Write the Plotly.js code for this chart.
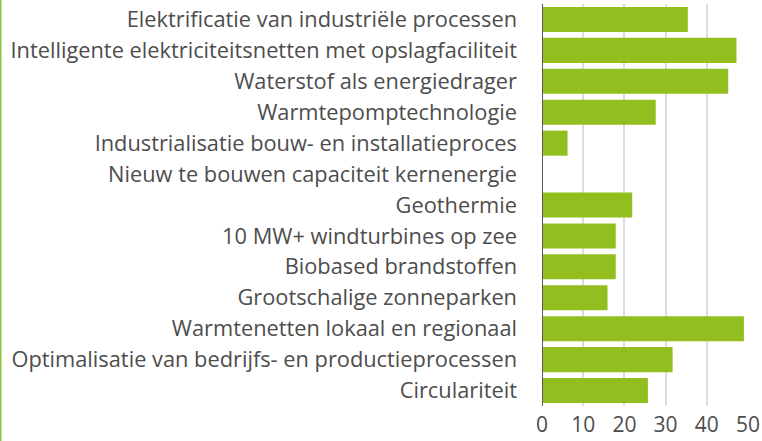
<!DOCTYPE html>
<html>
<head>
<meta charset="utf-8">
<script src="https://cdn.plot.ly/plotly-3.0.1.min.js"></script>
<style>
html,body{margin:0;padding:0;background:#fff;}
#chart{width:762px;height:441px;}
</style>
</head>
<body>
<div id="chart"></div>
<script>
const categories = [
  "Elektrificatie van industriële processen",
  "Intelligente elektriciteitsnetten met opslagfaciliteit",
  "Waterstof als energiedrager",
  "Warmtepomptechnologie",
  "Industrialisatie bouw- en installatieproces",
  "Nieuw te bouwen capaciteit kernenergie",
  "Geothermie",
  "10 MW+ windturbines op zee",
  "Biobased brandstoffen",
  "Grootschalige zonneparken",
  "Warmtenetten lokaal en regionaal",
  "Optimalisatie van bedrijfs- en productieprocessen",
  "Circulariteit"
];
const values = [35.4, 47.2, 45.2, 27.6, 6.2, 0, 21.9, 17.9, 17.9, 15.9, 49.0, 31.7, 25.7];
const xTicks = [0, 10, 20, 30, 40, 50];

const W = 762, L = 542, R = 14;
const plotW = W - L - R;

Plotly.newPlot('chart', [{
  type: 'bar',
  orientation: 'h',
  y: categories,
  x: values,
  marker: {color: '#92bf1f'},
  hoverinfo: 'none'
}], {
  width: 762,
  height: 441,
  margin: {l: L, r: R, t: 4, b: 35, pad: 0},
  paper_bgcolor: '#ffffff',
  plot_bgcolor: '#ffffff',
  bargap: 0.19,
  font: {family: '"Open Sans", sans-serif', size: 21.8, color: '#4d4d4d'},
  xaxis: {
    range: [0, 50],
    tickvals: xTicks,
    ticktext: xTicks.map(String),
    showgrid: true,
    gridcolor: '#dcdcdc',
    gridwidth: 2,
    zeroline: false,
    showline: false,
    ticks: '',
    ticklabelstandoff: 4,
    tickfont: {size: 21, color: '#4d4d4d'},
    fixedrange: true
  },
  yaxis: {
    categoryorder: 'array',
    categoryarray: categories,
    autorange: 'reversed',
    showgrid: false,
    zeroline: false,
    showline: false,
    ticks: '',
    ticklabelstandoff: 24,
    tickfont: {size: 21.8, color: '#4d4d4d'},
    fixedrange: true
  },
  shapes: [
    {type: 'line', xref: 'x', yref: 'paper', x0: 0, x1: 0, y0: 0, y1: 1,
     line: {color: '#555a60', width: 2}},
    {type: 'line', xref: 'paper', yref: 'paper', x0: -L / plotW + 0.5 / plotW, x1: -L / plotW + 0.5 / plotW,
     y0: -35 / 402, y1: 1 + 4 / 402, line: {color: '#8cc63f', width: 2}}
  ],
  showlegend: false
}, {staticPlot: true, displayModeBar: false});
</script>
</body>
</html>
